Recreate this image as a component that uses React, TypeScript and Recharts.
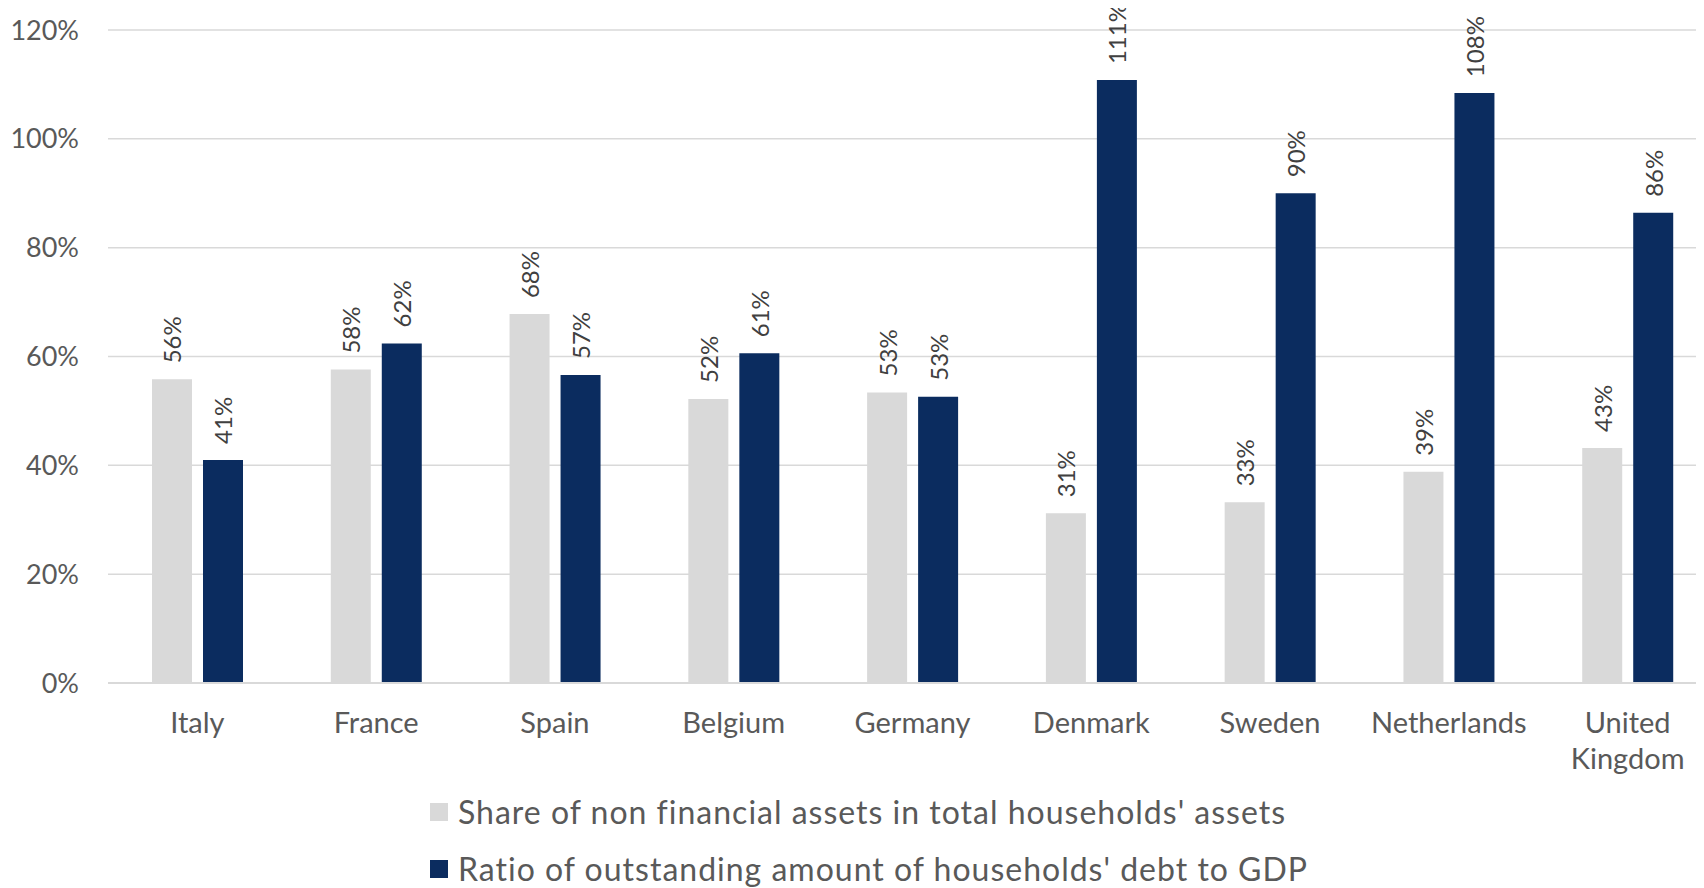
import { BarChart, Bar, XAxis, YAxis, CartesianGrid, LabelList, Legend } from "recharts"

const countries = ["Italy", "France", "Spain", "Belgium", "Germany", "Denmark", "Sweden", "Netherlands", "United Kingdom"]
const nonFinancialShare = [55.8, 57.6, 67.8, 52.2, 53.4, 31.2, 33.2, 38.8, 43.2]
const debtToGdp = [41.0, 62.4, 56.6, 60.6, 52.6, 110.8, 90.0, 108.4, 86.4]
const yTicks = [0, 20, 40, 60, 80, 100, 120]

const shareName = "Share of non financial assets in total households' assets"
const debtName = "Ratio of outstanding amount of households' debt to GDP"
const legendOrder = [shareName, debtName]

const data = countries.map((name, i) => ({
  name,
  share: nonFinancialShare[i],
  debt: debtToGdp[i],
}))

const FONT = "'Lato', 'Open Sans', sans-serif"

function XTick({ x, y, payload }: any) {
  const lines: string[] = payload.value.split(" ")
  return (
    <text x={x} y={y} textAnchor="middle" fill="#595959" fontSize={29} fontFamily={FONT}>
      {lines.map((l, i) => (
        <tspan key={i} x={x} dy={i === 0 ? 50 : 36}>
          {l}
        </tspan>
      ))}
    </text>
  )
}

function RotLabel({ x, y, width, value }: any) {
  const cx = x + width / 2
  const ty = y - 16
  return (
    <text
      x={cx}
      y={ty}
      transform={`rotate(-90 ${cx} ${ty})`}
      textAnchor="start"
      dominantBaseline="central"
      fontSize={24}
      fontFamily={FONT}
      fill="#404040"
    >
      {Math.round(value)}%
    </text>
  )
}

function LegendBox({ payload }: any) {
  const items = [...(payload || [])].sort(
    (a: any, b: any) => legendOrder.indexOf(a.value) - legendOrder.indexOf(b.value)
  )
  return (
    <div style={{ fontFamily: FONT }}>
      {items.map((p: any) => (
        <div key={p.value} style={{ display: "flex", alignItems: "center", height: 57, whiteSpace: "nowrap" }}>
          <div style={{ width: 18, height: 18, background: p.color, marginRight: 10 }} />
          <span style={{ fontSize: 32, letterSpacing: 1, color: "#595959" }}>{p.value}</span>
        </div>
      ))}
    </div>
  )
}

export default function App() {
  return (
    <div style={{ width: 1696, height: 888, marginTop: -8, overflow: "hidden" }}>
      <BarChart
        width={1720}
        height={888}
        data={data}
        margin={{ top: 30, right: 11, left: 0, bottom: 105 }}
        barGap={11}
        barSize={40}
      >
        <CartesianGrid vertical={false} stroke="#d9d9d9" strokeWidth={1.5} />
        <XAxis
          dataKey="name"
          tick={<XTick />}
          tickLine={false}
          tickSize={0}
          tickMargin={0}
          axisLine={{ stroke: "#d9d9d9", strokeWidth: 2 }}
          interval={0}
          height={100}
        />
        <YAxis
          domain={[0, 120]}
          ticks={yTicks}
          width={100}
          tickFormatter={(v: number) => `${v}%`}
          tick={{ fill: "#595959", fontSize: 27, fontFamily: FONT }}
          tickLine={false}
          tickSize={0}
          tickMargin={29}
          axisLine={false}
        />
        <Legend
          layout="horizontal"
          verticalAlign="middle"
          align="center"
          content={<LegendBox />}
          wrapperStyle={{ top: 783, left: 422, width: 1000, height: 114 }}
        />
        <Bar dataKey="share" name={shareName} fill="#d9d9d9" isAnimationActive={false}>
          <LabelList dataKey="share" content={<RotLabel />} />
        </Bar>
        <Bar dataKey="debt" name={debtName} fill="#0b2c5f" isAnimationActive={false}>
          <LabelList dataKey="debt" content={<RotLabel />} />
        </Bar>
      </BarChart>
    </div>
  )
}
